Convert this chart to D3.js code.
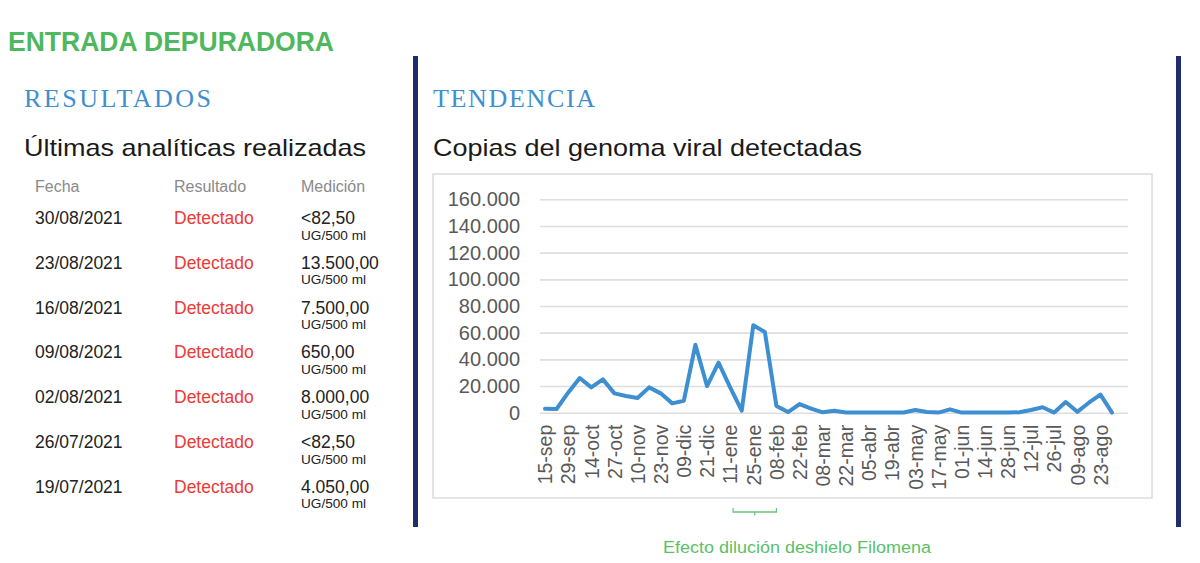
<!DOCTYPE html>
<html>
<head>
<meta charset="utf-8">
<script src="https://cdn.jsdelivr.net/npm/d3@7"></script>
<style>
  body { margin: 0; background: #fff; }
  svg { display: block; font-family: "Liberation Sans", Arial, sans-serif; }
</style>
</head>
<body>
<div id="chart"></div>
<script>
(function(){

// table of latest analyses
const fechas = ["30/08/2021","23/08/2021","16/08/2021","09/08/2021","02/08/2021","26/07/2021","19/07/2021"];
const resultados = ["Detectado","Detectado","Detectado","Detectado","Detectado","Detectado","Detectado"];
const mediciones = ["<82,50","13.500,00","7.500,00","650,00","8.000,00","<82,50","4.050,00"];
const unidad = "UG/500 ml";

// trend: weekly samples, label every second week
const tickLabels = ["15-sep","29-sep","14-oct","27-oct","10-nov","23-nov","09-dic","21-dic","11-ene","25-ene",
  "08-feb","22-feb","08-mar","22-mar","05-abr","19-abr","03-may","17-may","01-jun","14-jun",
  "28-jun","12-jul","26-jul","09-ago","23-ago"];
const copias = [3000,2800,15000,26000,19000,25000,14500,12500,11000,19000,
  14500,7000,9000,51000,20000,37500,19000,1500,65500,60500,
  5000,500,6500,3000,300,1500,200,100,100,100,
  100,100,2000,500,100,2500,100,100,100,100,
  100,300,2000,4050,82.5,8000,650,7500,13500,82.5];
const yTicks = [0,20000,40000,60000,80000,100000,120000,140000,160000];
const nota = {from: "11-ene", to: "08-feb", text: "Efecto dilución deshielo Filomena"};

const width = 1200, height = 563;
const green = "#4fb85e", blue = "#3d8fd1", navy = "#1f2d6b";

const svg = d3.select("#chart").append("svg")
  .attr("width", width).attr("height", height)
  .attr("viewBox", `0 0 ${width} ${height}`);

// headings
svg.append("text")
  .attr("x", 8).attr("y", 51)
  .attr("textLength", 326).attr("lengthAdjust", "spacingAndGlyphs")
  .style("font-size", "28px").style("font-weight", "bold")
  .attr("fill", green)
  .text("ENTRADA DEPURADORA");

[{t: "RESULTADOS", x: 24, w: 187}, {t: "TENDENCIA", x: 433, w: 162}].forEach(h => {
  svg.append("text")
    .attr("x", h.x).attr("y", 107)
    .attr("textLength", h.w).attr("lengthAdjust", "spacing")
    .style("font-family", "'Liberation Serif', 'Times New Roman', serif")
    .style("font-size", "26px")
    .attr("fill", blue)
    .text(h.t);
});

[{t: "Últimas analíticas realizadas", x: 24, w: 342}, {t: "Copias del genoma viral detectadas", x: 433, w: 429}].forEach(h => {
  svg.append("text")
    .attr("x", h.x).attr("y", 156)
    .attr("textLength", h.w).attr("lengthAdjust", "spacingAndGlyphs")
    .style("font-size", "24px")
    .attr("fill", "#1a1a1a")
    .text(h.t);
});

// vertical separators
[413, 1176].forEach(x => {
  svg.append("rect")
    .attr("x", x).attr("y", 56)
    .attr("width", 5).attr("height", 471)
    .attr("fill", navy);
});

// table
const cols = [35, 174, 301];
svg.selectAll(".th")
  .data(["Fecha", "Resultado", "Medición"])
  .enter().append("text")
  .attr("class", "th")
  .attr("x", (d, i) => cols[i]).attr("y", 192)
  .style("font-size", "16px")
  .attr("fill", "#8a8a8a")
  .text(d => d);

const rows = svg.selectAll(".row")
  .data(fechas)
  .enter().append("g")
  .attr("class", "row")
  .attr("transform", (d, i) => `translate(0,${224 + i * 44.8})`);

rows.append("text")
  .attr("x", cols[0])
  .style("font-size", "17.5px")
  .attr("fill", "#222")
  .text(d => d);

rows.append("text")
  .attr("x", cols[1])
  .style("font-size", "17.5px")
  .attr("fill", "#ec3a35")
  .text((d, i) => resultados[i]);

rows.append("text")
  .attr("x", cols[2])
  .style("font-size", "17.5px")
  .attr("fill", "#222")
  .text((d, i) => mediciones[i]);

rows.append("text")
  .attr("x", cols[2]).attr("y", 15.5)
  .attr("textLength", 65).attr("lengthAdjust", "spacingAndGlyphs")
  .style("font-size", "12.5px")
  .attr("fill", "#222")
  .text(unidad);

// chart frame
svg.append("rect")
  .attr("x", 433).attr("y", 174)
  .attr("width", 719).attr("height", 324)
  .attr("fill", "none")
  .attr("stroke", "#dcdcdc").attr("stroke-width", 1.5);

const x = d3.scalePoint()
  .domain(d3.range(copias.length))
  .range([545, 1112]);

const y = d3.scaleLinear()
  .domain([0, 160000])
  .range([412.7, 199.3]);

const es = d3.formatLocale({decimal: ",", thousands: ".", grouping: [3], currency: ["", "€"]});
const fmt = es.format(",d");

// gridlines + y labels
const yAxis = svg.append("g")
  .attr("transform", "translate(540,0)")
  .call(d3.axisLeft(y).tickValues(yTicks).tickFormat(fmt).tickSize(-588).tickPadding(20));
yAxis.select(".domain").remove();
yAxis.selectAll(".tick line").attr("stroke", "#dedede").attr("stroke-width", 1.6);
yAxis.selectAll(".tick text")
  .attr("fill", "#595959")
  .style("font-size", "20px")
  .style("font-family", "'Liberation Sans', Arial, sans-serif");

// x labels
const xAxis = svg.append("g")
  .attr("transform", `translate(0,${y(0)})`)
  .call(d3.axisBottom(x)
    .tickValues(d3.range(0, copias.length, 2))
    .tickFormat(i => tickLabels[i / 2])
    .tickSize(0));
xAxis.select(".domain").remove();
xAxis.selectAll(".tick text")
  .attr("fill", "#595959")
  .style("font-size", "19.5px")
  .style("font-family", "'Liberation Sans', Arial, sans-serif")
  .attr("text-anchor", "end")
  .attr("transform", "rotate(-90)")
  .attr("x", -12).attr("y", 0).attr("dy", "0.35em");

// trend line
svg.append("path")
  .datum(copias)
  .attr("fill", "none")
  .attr("stroke", blue)
  .attr("stroke-width", 4)
  .attr("stroke-linejoin", "round")
  .attr("stroke-linecap", "round")
  .attr("d", d3.line().x((d, i) => x(i)).y(d => y(d)));

// annotation bracket
const x0 = x(tickLabels.indexOf(nota.from) * 2) + 3;
const x1 = x(tickLabels.indexOf(nota.to) * 2);
const xm = (x0 + x1) / 2;
svg.append("path")
  .attr("d", `M${x0},508 V512 H${x1} V508 M${xm},512 V515.5`)
  .attr("fill", "none")
  .attr("stroke", "#6cc37a").attr("stroke-width", 1.3);

svg.append("text")
  .attr("x", 663).attr("y", 553)
  .attr("textLength", 268).attr("lengthAdjust", "spacingAndGlyphs")
  .style("font-size", "16px")
  .attr("fill", "#5cbf6a")
  .text(nota.text);

})();
</script>
</body>
</html>
